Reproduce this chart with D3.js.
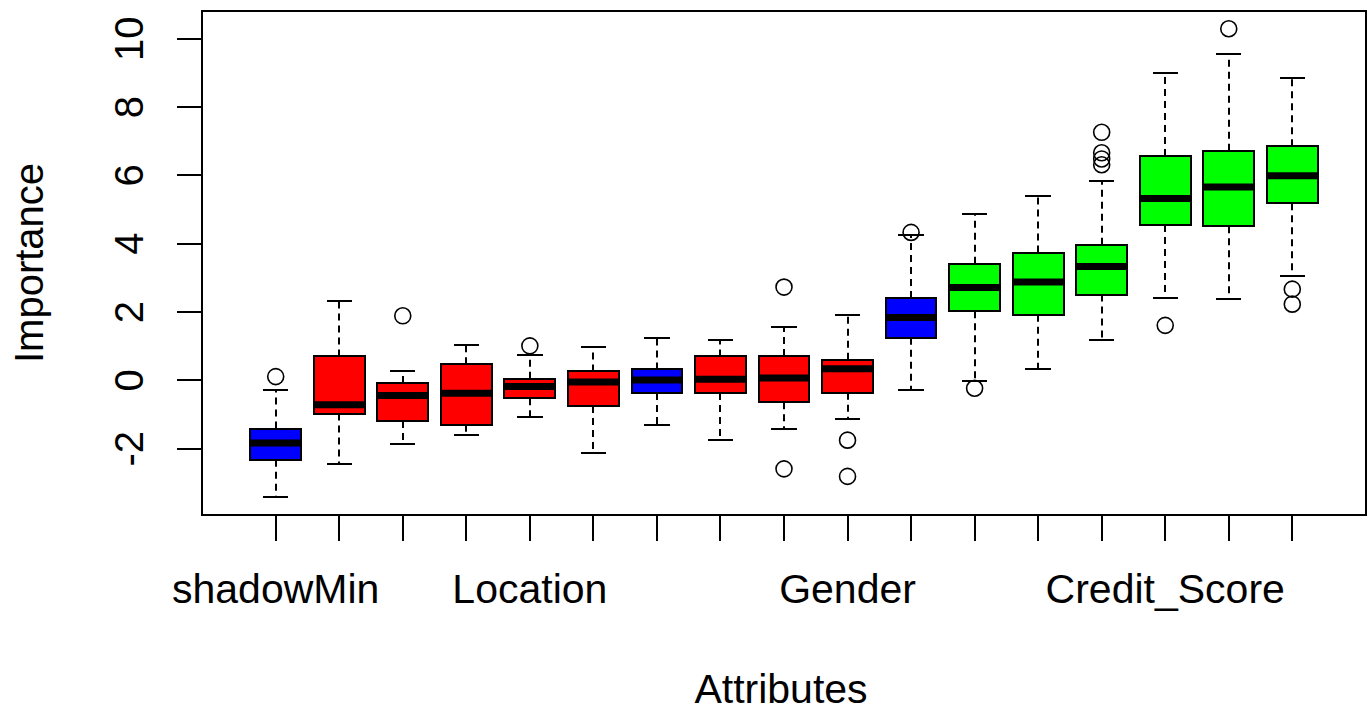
<!DOCTYPE html>
<html>
<head>
<meta charset="utf-8">
<script src="https://cdn.jsdelivr.net/npm/d3@7"></script>
<style>
  html, body { margin: 0; padding: 0; background: #ffffff; }
  svg { display: block; }
  text { font-family: "Liberation Sans", Arial, sans-serif; fill: #000; }
</style>
</head>
<body>
<svg id="chart" width="1370" height="711"></svg>
<script>
// ---- Data (Boruta attribute importance, sorted by median) ----
const categories = ["shadowMin", "Tenure", "Has_Card", "Salary", "Location", "Card_Type",
  "shadowMean", "Satisfaction", "Points", "Gender", "shadowMax", "Products",
  "Balance", "Active", "Credit_Score", "Age", "Complaint"];
const visibleLabels = ["shadowMin", "", "", "", "Location", "", "", "", "", "Gender",
  "", "", "", "", "Credit_Score", "", ""];
const status = ["shadow", "rejected", "rejected", "rejected", "rejected", "rejected",
  "shadow", "rejected", "rejected", "rejected", "shadow", "confirmed",
  "confirmed", "confirmed", "confirmed", "confirmed", "confirmed"];
const whiskerLow  = [-3.40, -2.45, -1.85, -1.61, -1.06, -2.12, -1.30, -1.74, -1.41, -1.12, -0.29, -0.02, 0.32, 1.19, 2.41, 2.37, 3.04];
const q1          = [-2.32, -0.97, -1.19, -1.30, -0.52, -0.75, -0.37, -0.37, -0.64, -0.36, 1.25, 2.02, 1.92, 2.51, 4.55, 4.51, 5.18];
const medians     = [-1.83, -0.71, -0.44, -0.38, -0.18, -0.05, 0.01, 0.03, 0.07, 0.34, 1.84, 2.72, 2.88, 3.33, 5.32, 5.66, 5.99];
const q3          = [-1.41, 0.70, -0.08, 0.47, 0.05, 0.26, 0.32, 0.70, 0.71, 0.60, 2.41, 3.41, 3.74, 3.97, 6.57, 6.72, 6.85];
const whiskerHigh = [-0.29, 2.31, 0.26, 1.03, 0.75, 0.98, 1.25, 1.19, 1.55, 1.91, 4.26, 4.86, 5.40, 5.84, 9.00, 9.55, 8.84];
const outliers = [[0.11], [], [1.89], [], [1.01], [], [], [], [2.73, -2.59], [-1.75, -2.81],
  [4.33], [-0.23], [], [7.26, 6.66, 6.48, 6.31], [1.61], [10.29], [2.67, 2.23]];
const yTicks = [-2, 0, 2, 4, 6, 8, 10];
const colorOf = { shadow: "#0000ff", rejected: "#ff0000", confirmed: "#00ff00" };

// ---- Layout ----
const svg = d3.select("#chart");
const plot = { left: 202, right: 1366, top: 11, bottom: 515 };

const x = d3.scaleLinear().domain([-0.16, categories.length + 1.16]).range([plot.left, plot.right]);
const y = d3.scaleLinear().domain([-3.94, 10.81]).range([plot.bottom, plot.top]);
const xr = v => Math.round(x(v));

const boxHalf = 0.4, capHalf = 0.2;

const data = categories.map((c, i) => ({
  name: c, pos: i + 1, lo: whiskerLow[i], q1: q1[i], med: medians[i], q3: q3[i],
  hi: whiskerHigh[i], out: outliers[i], col: colorOf[status[i]]
}));

const g = svg.append("g");
const boxes = g.selectAll("g.box").data(data).join("g").attr("class", "box");

// whiskers (dashed)
boxes.append("line")
  .attr("x1", d => xr(d.pos)).attr("x2", d => xr(d.pos))
  .attr("y1", d => y(d.q3)).attr("y2", d => y(d.hi))
  .attr("stroke", "#000").attr("stroke-width", 2).attr("stroke-dasharray", "7,5");
boxes.append("line")
  .attr("x1", d => xr(d.pos)).attr("x2", d => xr(d.pos))
  .attr("y1", d => y(d.q1)).attr("y2", d => y(d.lo))
  .attr("stroke", "#000").attr("stroke-width", 2).attr("stroke-dasharray", "7,5");
// staples
boxes.append("line")
  .attr("x1", d => xr(d.pos - capHalf)).attr("x2", d => xr(d.pos + capHalf))
  .attr("y1", d => Math.round(y(d.hi))).attr("y2", d => Math.round(y(d.hi)))
  .attr("stroke", "#000").attr("stroke-width", 2);
boxes.append("line")
  .attr("x1", d => xr(d.pos - capHalf)).attr("x2", d => xr(d.pos + capHalf))
  .attr("y1", d => Math.round(y(d.lo))).attr("y2", d => Math.round(y(d.lo)))
  .attr("stroke", "#000").attr("stroke-width", 2);
// box
boxes.append("rect")
  .attr("x", d => xr(d.pos - boxHalf)).attr("width", d => xr(d.pos + boxHalf) - xr(d.pos - boxHalf))
  .attr("y", d => Math.round(y(d.q3))).attr("height", d => Math.round(y(d.q1)) - Math.round(y(d.q3)))
  .attr("fill", d => d.col).attr("stroke", "#000").attr("stroke-width", 2);
// median
boxes.append("line")
  .attr("x1", d => xr(d.pos - boxHalf) + 1).attr("x2", d => xr(d.pos + boxHalf) - 1)
  .attr("y1", d => y(d.med)).attr("y2", d => y(d.med))
  .attr("stroke", "#000").attr("stroke-width", 7);
// outliers
boxes.selectAll("circle").data(d => d.out.map(v => ({ pos: d.pos, v })))
  .join("circle")
  .attr("cx", d => x(d.pos)).attr("cy", d => y(d.v)).attr("r", 8)
  .attr("fill", "none").attr("stroke", "#000").attr("stroke-width", 1.6);

// frame
svg.append("rect")
  .attr("x", plot.left).attr("y", plot.top)
  .attr("width", plot.right - plot.left).attr("height", plot.bottom - plot.top)
  .attr("fill", "none").attr("stroke", "#000").attr("stroke-width", 2);

// y axis ticks + labels
const yAx = svg.append("g");
yAx.selectAll("line").data(yTicks).join("line")
  .attr("x1", plot.left - 25).attr("x2", plot.left)
  .attr("y1", d => Math.round(y(d))).attr("y2", d => Math.round(y(d)))
  .attr("stroke", "#000").attr("stroke-width", 2);
yAx.selectAll("text").data(yTicks).join("text")
  .attr("transform", d => `translate(143,${y(d)}) rotate(-90)`)
  .attr("text-anchor", "middle")
  .style("font-size", "40px")
  .text(d => d);

// x axis ticks + labels
const xAx = svg.append("g");
xAx.selectAll("line").data(data).join("line")
  .attr("x1", d => xr(d.pos)).attr("x2", d => xr(d.pos))
  .attr("y1", plot.bottom).attr("y2", plot.bottom + 26)
  .attr("stroke", "#000").attr("stroke-width", 2);
xAx.selectAll("text").data(data.filter((d, i) => visibleLabels[i] !== "")).join("text")
  .attr("x", d => x(d.pos)).attr("y", 603)
  .attr("text-anchor", "middle")
  .style("font-size", "41px")
  .text(d => visibleLabels[d.pos - 1]);

// axis titles
svg.append("text")
  .attr("x", (plot.left + plot.right) / 2 - 3).attr("y", 703)
  .attr("text-anchor", "middle").style("font-size", "41px")
  .text("Attributes");
svg.append("text")
  .attr("transform", `translate(43,${(plot.top + plot.bottom) / 2}) rotate(-90)`)
  .attr("text-anchor", "middle").style("font-size", "40px")
  .text("Importance");
</script>
</body>
</html>
